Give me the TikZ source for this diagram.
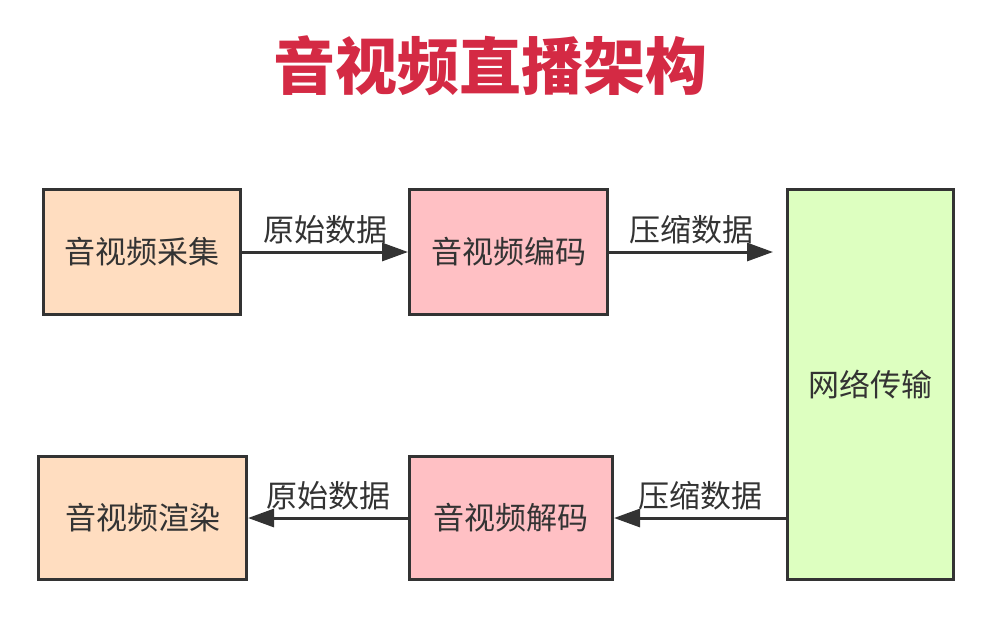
\documentclass[tikz,border=0pt]{standalone}
\usepackage{fontspec}
\setmainfont{Noto Sans CJK SC}
\usetikzlibrary{arrows.meta, positioning}
\definecolor{capture}{HTML}{FFDDC0}
\definecolor{codec}{HTML}{FFC0C4}
\definecolor{network}{HTML}{DDFFC0}
\definecolor{edge}{HTML}{333333}
\definecolor{headline}{HTML}{D42A44}

\tikzset{
	stage/.style={rectangle, draw=edge, line width=3pt, text=edge, anchor=north west, inner sep=0pt, font=\fontsize{31}{31}\selectfont},
	flow/.style={-{Triangle[length=26pt,width=18pt]}, draw=edge, line width=3pt},
	flowlabel/.style={midway, above=6pt, text=edge, inner sep=0pt, font=\fontsize{31}{31}\selectfont}
}

\begin{document}
\begin{tikzpicture}[x=1pt, y=-1pt]
	\useasboundingbox (0,0) rectangle (992,627);
	\node[text=headline, font=\fontsize{62}{62}\selectfont\bfseries] (title) at (490,66) {音视频直播架构};

	\node[stage, fill=capture, minimum width=197pt, minimum height=125pt] (collect) at (42,188) {音视频采集};
	\node[stage, fill=codec, minimum width=198pt, minimum height=125pt] (encode) at (408,188) {音视频编码};
	\node[stage, fill=network, minimum width=166pt, minimum height=390pt] (net) at (786,188) {网络传输};
	\node[stage, fill=capture, minimum width=208pt, minimum height=123pt] (render) at (37,455) {音视频渲染};
	\node[stage, fill=codec, minimum width=203pt, minimum height=123pt] (decode) at (408,455) {音视频解码};
	\coordinate (netin) at (773,250);

	\draw[flow] (collect) -- (encode) node[flowlabel] {原始数据};
	\draw[flow] (encode.east) -- (encode.east -| netin) node[flowlabel] {压缩数据};
	\draw[flow] (net.west |- decode) -- (decode) node[flowlabel] {压缩数据};
	\draw[flow] (decode) -- (render) node[flowlabel] {原始数据};
\end{tikzpicture}
\end{document}
